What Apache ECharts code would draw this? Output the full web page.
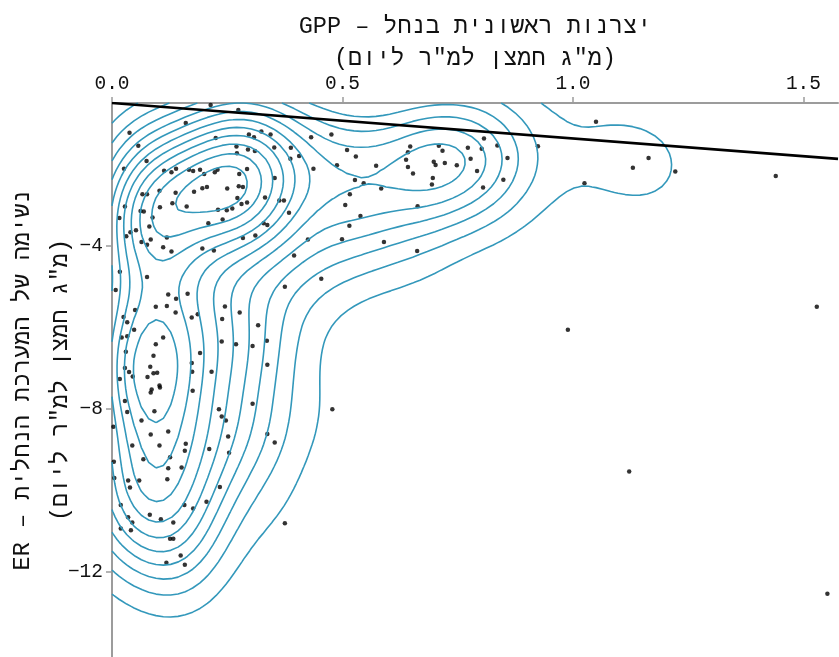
<!DOCTYPE html>
<html>
<head>
<meta charset="utf-8">
<script src="https://cdn.jsdelivr.net/npm/echarts@6/dist/echarts.min.js"></script>
<style>
  html, body { margin: 0; padding: 0; background: #fff; }
  #chart { width: 839px; height: 657px; }
</style>
</head>
<body>
<div id="chart"></div>
<script>
// GPP (x) and ER (y) for each sample
const gpp = [
  0.214, 0.274, 0.160, 0.038, 0.057, 0.075, 0.026, 0.225, 0.297, 0.308, 0.324, 0.344, 0.270, 0.295, 0.310, 0.271,
  0.352, 0.388, 0.432, 0.476, 0.387, 0.406, 0.437, 0.488, 0.510, 0.113, 0.129, 0.139, 0.167, 0.176, 0.191, 0.200,
  0.223, 0.229, 0.293, 0.276, 0.353, 0.103, 0.138, 0.178, 0.196, 0.206, 0.250, 0.275, 0.284, 0.066, 0.076, 0.272,
  0.332, 0.363, 0.373, 0.028, 0.062, 0.069, 0.104, 0.131, 0.162, 0.230, 0.249, 0.261, 0.281, 0.293, 0.016, 0.088,
  0.081, 0.209, 0.240, 0.329, 0.337, 0.384, 0.506, 0.040, 0.052, 0.031, 0.064, 0.076, 0.084, 0.119, 0.111, 0.129,
  0.196, 0.221, 0.284, 0.311, 0.425, 0.499, 0.395, 0.454, 0.017, 0.076, 0.375,
  0.529, 0.647, 0.642, 0.638, 0.709, 0.717, 0.698, 0.702, 0.722, 0.748, 0.642, 0.653, 0.696, 0.694, 0.772, 0.802,
  0.807, 0.836, 0.778, 0.858, 0.792, 0.849, 0.805, 0.573, 0.527, 0.546, 0.584, 0.516, 0.539, 0.515, 0.663, 0.924,
  1.025, 0.590, 0.662,
  1.050, 1.164, 1.130, 1.222, 1.440, 0.989, 1.529, 1.122, 1.552,
  0.008, 0.122, 0.139, 0.164, 0.095, 0.119, 0.050, 0.025, 0.033, 0.048, 0.138, 0.173, 0.186, 0.245, 0.239, 0.277,
  0.317, 0.021, 0.033, 0.111, 0.095, 0.238, 0.269, 0.305, 0.336, 0.030, 0.090, 0.191, 0.083, 0.077, 0.090, 0.098,
  0.028, 0.037, 0.045, 0.017, 0.173, 0.174, 0.216, 0.337, 0.103, 0.104, 0.086, 0.084, 0.175, 0.028, 0.033, 0.092,
  0.232, 0.238, 0.247, 0.305, 0.478, 0.003, 0.064, 0.084, 0.122, 0.252, 0.337, 0.353, 0.044, 0.103, 0.160, 0.158,
  0.211, 0.254, 0.004, 0.068, 0.126, 0.122, 0.151,
  0.005, 0.035, 0.039, 0.059, 0.120, 0.234, 0.019, 0.082, 0.106, 0.157, 0.176, 0.205, 0.035, 0.044, 0.019, 0.041,
  0.133, 0.126, 0.133, 0.149, 0.118, 0.158, 0.375
];
const er = [
  -0.55, -0.67, -0.99, -1.23, -1.55, -1.92, -2.11, -1.36, -1.27, -1.34, -1.20, -1.27, -1.57, -1.64, -1.68, -1.73,
  -1.59, -1.60, -1.34, -1.27, -1.87, -1.80, -2.11, -2.03, -1.65, -2.16, -2.20, -2.11, -2.14, -2.17, -2.14, -2.24,
  -2.20, -2.14, -2.12, -2.24, -2.34, -2.65, -2.70, -2.68, -2.59, -2.56, -2.60, -2.54, -2.56, -2.74, -2.74, -2.83,
  -2.82, -2.89, -2.89, -3.04, -3.15, -3.16, -3.06, -2.96, -3.04, -3.12, -3.13, -3.09, -2.98, -2.94, -3.32, -3.31,
  -3.53, -3.45, -3.36, -3.45, -3.49, -3.19, -3.00, -3.67, -3.62, -3.77, -3.91, -3.98, -3.85, -3.80, -4.04, -4.14,
  -4.07, -4.12, -3.81, -3.75, -3.85, -3.84, -4.24, -4.81, -4.64, -4.77, -5.01,
  -1.81, -1.57, -1.71, -1.89, -1.55, -1.67, -1.94, -2.02, -1.97, -2.03, -2.07, -2.23, -2.34, -2.50, -1.60, -1.62,
  -1.37, -1.54, -1.87, -1.85, -2.17, -2.38, -2.57, -2.04, -2.39, -2.47, -2.60, -2.74, -3.27, -3.51, -3.03, -1.56,
  -2.47, -3.91, -4.13,
  -0.96, -1.85, -2.09, -2.18, -2.29, -6.06, -5.50, -9.54, -12.54,
  -5.09, -5.20, -5.30, -5.18, -5.50, -5.48, -5.58, -5.75, -5.88, -6.06, -5.64, -5.76, -5.68, -5.49, -5.80, -5.64,
  -5.95, -6.25, -6.22, -6.25, -6.42, -6.35, -6.42, -6.46, -6.33, -6.60, -6.70, -6.63, -6.97, -7.22, -7.13, -7.12,
  -7.00, -7.10, -7.21, -7.27, -6.88, -7.09, -7.09, -6.92, -7.43, -7.48, -7.53, -7.60, -7.56, -7.81, -8.08, -8.06,
  -8.01, -8.19, -8.29, -7.88, -8.01, -8.44, -8.29, -8.63, -8.56, -8.68, -8.62, -8.83, -8.90, -8.90, -8.86, -9.03,
  -8.99, -9.08, -9.30, -9.24, -9.19, -9.46, -9.44,
  -9.70, -9.76, -9.93, -9.76, -9.73, -9.92, -10.36, -10.60, -10.71, -10.36, -10.45, -10.28, -10.66, -10.79, -10.94, -10.98,
  -10.79, -11.19, -11.19, -11.60, -11.78, -11.83, -10.81
];

// straight reference line (two ends)
const lineGpp = [0, 1.575];
const lineEr = [-0.5, -1.87];

const xRange = [0, 1.575];
const yRange = [-14.09, -0.5];
const xTicks = [0, 0.5, 1.0, 1.5];
const yTicks = [-4, -8, -12];

const font = "'Liberation Mono', 'DejaVu Sans Mono', monospace";

// ---- 2D kernel density (like MASS::kde2d) ----
function quantile(s, p) {
  const h = (s.length - 1) * p, lo = Math.floor(h);
  const hi = Math.min(lo + 1, s.length - 1);
  return s[lo] + (h - lo) * (s[hi] - s[lo]);
}
function bandwidth(v) {
  const n = v.length;
  const m = v.reduce((a, b) => a + b, 0) / n;
  const sd = Math.sqrt(v.reduce((a, b) => a + (b - m) * (b - m), 0) / (n - 1));
  const s = v.slice().sort((a, b) => a - b);
  const iqr = quantile(s, 0.75) - quantile(s, 0.25);
  return 4 * 1.06 * Math.min(sd, iqr / 1.34) * Math.pow(n, -0.2);
}
function pretty(lo, hi, n) {
  const cell = (hi - lo) / n;
  const base = Math.pow(10, Math.floor(Math.log10(cell)));
  let unit = base;
  const h = 1.5, h5 = 0.5 + 1.5 * h;
  if (2 * base - cell < h * (cell - unit)) {
    unit = 2 * base;
    if (5 * base - cell < h5 * (cell - unit)) {
      unit = 5 * base;
      if (10 * base - cell < h * (cell - unit)) unit = 10 * base;
    }
  }
  const out = [];
  const start = Math.floor(lo / unit + 1e-7), end = Math.ceil(hi / unit - 1e-7);
  for (let k = start; k <= end; k++) out.push(k * unit);
  return out;
}

const N = 100;
const hx = bandwidth(gpp) / 4, hy = bandwidth(er) / 4;
const gx = [], gy = [];
for (let i = 0; i < N; i++) {
  gx.push(xRange[0] + (xRange[1] - xRange[0]) * i / (N - 1));
  gy.push(yRange[0] + (yRange[1] - yRange[0]) * i / (N - 1));
}
const z = [];
let zmax = 0, zmin = Infinity;
for (let j = 0; j < N; j++) {
  const row = [];
  for (let i = 0; i < N; i++) {
    let s = 0;
    for (let k = 0; k < gpp.length; k++) {
      const dx = (gx[i] - gpp[k]) / hx, dy = (gy[j] - er[k]) / hy;
      s += Math.exp(-0.5 * (dx * dx + dy * dy));
    }
    const d = s / (2 * Math.PI * gpp.length * hx * hy);
    row.push(d);
    zmax = Math.max(zmax, d); zmin = Math.min(zmin, d);
  }
  z.push(row);
}
const levels = pretty(zmin, zmax, 10).filter(l => l > zmin && l < zmax);

// ---- marching squares, joined into polylines ----
const caseSegs = {
  1: [[3, 0]], 2: [[0, 1]], 3: [[3, 1]], 4: [[1, 2]], 6: [[0, 2]], 7: [[3, 2]],
  8: [[2, 3]], 9: [[0, 2]], 11: [[1, 2]], 12: [[1, 3]], 13: [[0, 1]], 14: [[3, 0]]
};
function contourLines(L) {
  const pts = {}, segs = [], byKey = {};
  function edge(i, j, e) {
    let key, a, b;
    if (e === 0) { key = 'h' + i + '_' + j; a = [i, j]; b = [i + 1, j]; }
    else if (e === 1) { key = 'v' + (i + 1) + '_' + j; a = [i + 1, j]; b = [i + 1, j + 1]; }
    else if (e === 2) { key = 'h' + i + '_' + (j + 1); a = [i, j + 1]; b = [i + 1, j + 1]; }
    else { key = 'v' + i + '_' + j; a = [i, j]; b = [i, j + 1]; }
    if (!pts[key]) {
      const va = z[a[1]][a[0]], vb = z[b[1]][b[0]];
      const t = (L - va) / (vb - va);
      pts[key] = [gx[a[0]] + t * (gx[b[0]] - gx[a[0]]), gy[a[1]] + t * (gy[b[1]] - gy[a[1]])];
    }
    return key;
  }
  for (let j = 0; j < N - 1; j++) {
    for (let i = 0; i < N - 1; i++) {
      const v0 = z[j][i], v1 = z[j][i + 1], v2 = z[j + 1][i + 1], v3 = z[j + 1][i];
      const c = (v0 >= L ? 1 : 0) | (v1 >= L ? 2 : 0) | (v2 >= L ? 4 : 0) | (v3 >= L ? 8 : 0);
      let list = caseSegs[c];
      const mid = (v0 + v1 + v2 + v3) / 4;
      if (c === 5) list = mid >= L ? [[0, 1], [2, 3]] : [[3, 0], [1, 2]];
      if (c === 10) list = mid >= L ? [[3, 0], [1, 2]] : [[0, 1], [2, 3]];
      if (!list) continue;
      list.forEach(([ea, eb]) => {
        const ka = edge(i, j, ea), kb = edge(i, j, eb);
        const id = segs.length;
        segs.push([ka, kb]);
        (byKey[ka] = byKey[ka] || []).push(id);
        (byKey[kb] = byKey[kb] || []).push(id);
      });
    }
  }
  const used = new Array(segs.length).fill(false);
  const lines = [];
  function walk(key, out) {
    while (true) {
      const next = (byKey[key] || []).find(id => !used[id]);
      if (next === undefined) return;
      used[next] = true;
      key = segs[next][0] === key ? segs[next][1] : segs[next][0];
      out.push(key);
    }
  }
  for (let s = 0; s < segs.length; s++) {
    if (used[s]) continue;
    used[s] = true;
    const fwd = [segs[s][1]], back = [];
    walk(segs[s][1], fwd);
    walk(segs[s][0], back);
    const keys = back.reverse().concat([segs[s][0]], fwd);
    lines.push(keys.map(k => pts[k]));
  }
  return lines;
}

const contourData = [];
levels.forEach(L => {
  contourLines(L).forEach(line => {
    line.forEach(p => contourData.push(p));
    contourData.push(['-', '-']);
  });
});

const chart = echarts.init(document.getElementById('chart'));
chart.setOption({
  animation: false,
  grid: { left: 112, top: 103, right: 1, bottom: 0, outerBoundsMode: 'none' },
  xAxis: {
    type: 'value', position: 'top',
    min: xRange[0], max: xRange[1],
    name: 'GPP – יצרנות ראשונית בנחל\n(מ"ג חמצן למ"ר ליום)',
    nameLocation: 'middle', nameGap: 28, nameMoveOverlap: false,
    nameTextStyle: { fontSize: 23.5, color: '#111', fontFamily: font, lineHeight: 32 },
    axisLine: { lineStyle: { color: '#9c9c9c', width: 2 } },
    axisTick: { customValues: xTicks, length: 6, lineStyle: { color: '#9c9c9c', width: 1.5 } },
    axisLabel: {
      customValues: xTicks, margin: 9,
      formatter: v => v.toFixed(1),
      fontSize: 19.5, color: '#111', fontFamily: font
    },
    splitLine: { show: false }
  },
  yAxis: {
    type: 'value',
    min: yRange[0], max: yRange[1],
    name: 'ER – נשימה של המערכת הנחלית\n(מ"ג חמצן למ"ר ליום)',
    nameLocation: 'middle', nameRotate: 90, nameGap: 32, nameMoveOverlap: false,
    nameTextStyle: { fontSize: 23.5, color: '#111', fontFamily: font, lineHeight: 38 },
    axisLine: { lineStyle: { color: '#9c9c9c', width: 2 } },
    axisTick: { customValues: yTicks, length: 6, lineStyle: { color: '#9c9c9c', width: 1.5 } },
    axisLabel: {
      customValues: yTicks, margin: 9,
      formatter: v => String(v).replace('-', '−'),
      fontSize: 19.5, color: '#111', fontFamily: font
    },
    splitLine: { show: false }
  },
  series: [
    {
      name: 'density', type: 'line', data: contourData,
      showSymbol: false, connectNulls: false, silent: true,
      lineStyle: { color: '#3398bb', width: 1.6 }
    },
    {
      name: 'fit', type: 'line',
      data: lineGpp.map((x, i) => [x, lineEr[i]]),
      showSymbol: false, silent: true,
      lineStyle: { color: '#000', width: 2.6 }
    },
    {
      name: 'samples', type: 'scatter',
      data: gpp.map((x, i) => [x, er[i]]),
      symbolSize: 4.5, itemStyle: { color: '#000' }
    }
  ]
});
</script>
</body>
</html>
